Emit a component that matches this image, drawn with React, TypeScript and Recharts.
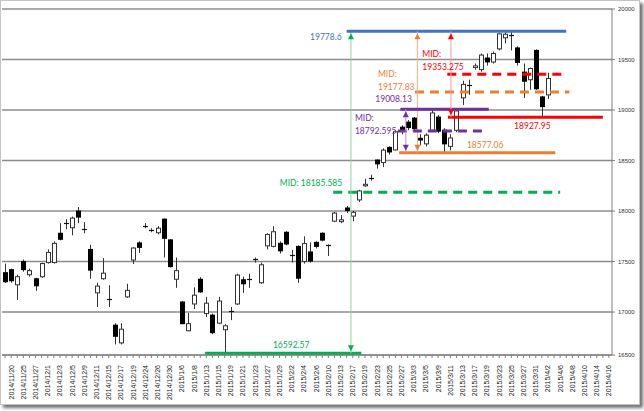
import React from 'react';
import { ComposedChart, Bar, XAxis, YAxis, CartesianGrid, ReferenceLine, ReferenceDot } from 'recharts';

// trading days on the axis (the last ten have no candle yet)
const dates = [
  '2014/11/19', '2014/11/20', '2014/11/21', '2014/11/25', '2014/11/26', '2014/11/27', '2014/11/28',
  '2014/12/1', '2014/12/2', '2014/12/3', '2014/12/4', '2014/12/5', '2014/12/8', '2014/12/9', '2014/12/10',
  '2014/12/11', '2014/12/12', '2014/12/15', '2014/12/16', '2014/12/17', '2014/12/18', '2014/12/19',
  '2014/12/22', '2014/12/24', '2014/12/25', '2014/12/26', '2014/12/29', '2014/12/30',
  '2015/1/5', '2015/1/6', '2015/1/7', '2015/1/8', '2015/1/9', '2015/1/13', '2015/1/14', '2015/1/15',
  '2015/1/16', '2015/1/19', '2015/1/20', '2015/1/21', '2015/1/22', '2015/1/23', '2015/1/26', '2015/1/27',
  '2015/1/28', '2015/1/29', '2015/1/30', '2015/2/2', '2015/2/3', '2015/2/4', '2015/2/5', '2015/2/6',
  '2015/2/9', '2015/2/10', '2015/2/12', '2015/2/13', '2015/2/16', '2015/2/17', '2015/2/18', '2015/2/19',
  '2015/2/20', '2015/2/23', '2015/2/24', '2015/2/25', '2015/2/26', '2015/2/27', '2015/3/2', '2015/3/3',
  '2015/3/4', '2015/3/5', '2015/3/6', '2015/3/9', '2015/3/10', '2015/3/11', '2015/3/12', '2015/3/13',
  '2015/3/16', '2015/3/17', '2015/3/18', '2015/3/19', '2015/3/20', '2015/3/23', '2015/3/24', '2015/3/25',
  '2015/3/26', '2015/3/27', '2015/3/30', '2015/3/31', '2015/4/1', '2015/4/2', '2015/4/3', '2015/4/6',
  '2015/4/7', '2015/4/8', '2015/4/9', '2015/4/10', '2015/4/13', '2015/4/14', '2015/4/15', '2015/4/16',
];

const opens = [
  17390, 17420, 17270, 17500, 17370, 17330, 17350, 17490, 17490, 17780, 17870, 17835, 18000, 17815, 17620,
  17190, 17330, 17125, 16870, 16695, 17150, 17515, 17685, 17850, 17815, 17785, 17920, 17715, 17325, 17100,
  16815, 17080, 17325, 16985, 16970, 16890, 16825, 17010, 17080, 17320, 17320, 17525, 17290, 17655, 17650,
  17680, 17790, 17560, 17650, 17500, 17595, 17690, 17780, 17660, 17900, 17895, 18030, 17950, 18110, 18250,
  18330, 18505, 18480, 18630, 18605, 18830, 18880, 18920, 18720, 18665, 18800, 18930, 18800, 18640, 18800,
  19120, 19240, 19420, 19400, 19515, 19475, 19605, 19715, 19740, 19615, 19375, 19300, 19590, 19130, 19150,
];
const highs = [
  17480, 17430, 17370, 17520, 17430, 17340, 17490, 17620, 17700, 17880, 17920, 17945, 18040, 17890, 17665,
  17290, 17535, 17265, 16890, 16890, 17280, 17640, 17700, 17880, 17830, 17850, 17925, 17720, 17540, 17110,
  16990, 17245, 17345, 17150, 16985, 17150, 16880, 17050, 17380, 17350, 17380, 17540, 17490, 17780, 17850,
  17700, 17800, 17615, 17660, 17750, 17690, 17700, 17790, 17670, 17990, 17960, 18050, 18000, 18210, 18320,
  18360, 18510, 18620, 18640, 18800, 18850, 18900, 18930, 18760, 18770, 19008.13, 18950, 18820, 18760, 19000,
  19290, 19300, 19460, 19560, 19560, 19580, 19760, 19770, 19778.6, 19630, 19460, 19420, 19600, 19140, 19370,
];
const lows = [
  17290, 17290, 17120, 17400, 17350, 17210, 17340, 17480, 17480, 17710, 17820, 17760, 17880, 17780, 17330,
  17050, 17320, 17050, 16680, 16680, 17140, 17475, 17585, 17830, 17790, 17770, 17540, 17440, 17240, 16880,
  16810, 17030, 17190, 16950, 16780, 16880, 16592.57, 16920, 17070, 17190, 17240, 17490, 17280, 17620, 17640,
  17580, 17660, 17490, 17290, 17480, 17490, 17630, 17700, 17555, 17890, 17880, 17980, 17900, 18090, 18240,
  18300, 18420, 18435, 18560, 18600, 18760, 18800, 18790, 18650, 18640, 18790, 18770, 18577.06, 18600, 18780,
  19050, 19150, 19400, 19380, 19440, 19460, 19590, 19660, 19590, 19440, 19120, 19200, 19200, 18927.95, 19110,
];
const closes = [
  17300, 17310, 17350, 17420, 17410, 17260, 17480, 17590, 17680, 17720, 17880, 17930, 17940, 17825, 17415,
  17257, 17385, 17115, 16760, 16830, 17215, 17634, 17640, 17855, 17810, 17830, 17730, 17450, 17410, 16885,
  16885, 17167, 17200, 17088, 16796, 17109, 16864, 17014, 17366, 17280, 17329, 17511, 17468, 17768, 17795,
  17606, 17674, 17558, 17335, 17678, 17505, 17650, 17712, 17652, 17980, 17913, 18005, 17987, 18199, 18265,
  18332, 18467, 18603, 18585, 18785, 18798, 18826, 18815, 18703, 18751, 18971, 18790, 18665, 18723, 18991,
  19254, 19246, 19437, 19544, 19476, 19560, 19754, 19750, 19746, 19471, 19285, 19411, 19210, 19034, 19312,
];

const yTicks = [16575, 17000, 17500, 18000, 18500, 19000, 19500, 20000];
const yTickLabels = ['16500', '17000', '17500', '18000', '18500', '19000', '19500', '20000'];

// marked levels
const topHigh = 19778.6;
const yearLow = 16592.57;
const boxLow = 18577.06;
const boxHigh = 19008.13;
const recentLow = 18927.95;
const midGreen = (topHigh + yearLow) / 2;
const midOrange = (topHigh + boxLow) / 2;
const midPurple = (boxHigh + boxLow) / 2;
const midRed = (topHigh + recentLow) / 2;

const candles = opens.map((o, i) => ({
  i,
  open: o,
  close: closes[i],
  range: [lows[i], highs[i]],
}));

const Candle = (props: any) => {
  const { x, y, width, height, payload } = props;
  const [lo, hi] = payload.range;
  const top = Math.min(y, y + height);
  const h = Math.abs(height);
  const px = (v: number) => top + ((hi - v) / (hi - lo)) * h;
  const c = Math.floor(x + width / 2);
  const up = payload.close >= payload.open;
  const bTop = px(Math.max(payload.open, payload.close));
  const bBot = px(Math.min(payload.open, payload.close));
  const bh = bBot - bTop;
  return (
    <g>
      <line x1={c + 0.5} x2={c + 0.5} y1={top} y2={top + h} stroke="#333" strokeWidth={1} />
      {bh < 1.5 ? (
        <line x1={c - 2} x2={c + 3} y1={Math.round(bTop) + 0.5} y2={Math.round(bTop) + 0.5} stroke="#111" strokeWidth={1.2} />
      ) : up ? (
        <rect x={c - 1.5} y={bTop} width={4} height={bh} fill="#fff" stroke="#333" strokeWidth={1} />
      ) : (
        <rect x={c - 2} y={bTop - 0.5} width={5} height={bh + 1} fill="#000" />
      )}
    </g>
  );
};

const DateTick = ({ x, y, payload }: any) => {
  const i = payload.value;
  if (i % 2 === 0) return <g />;
  return (
    <text
      x={x}
      y={y}
      dy="0.35em"
      transform={`rotate(-90 ${x} ${y})`}
      textAnchor="end"
      fontSize={7}
      fill="#222"
    >
      {dates[i]}
    </text>
  );
};

const arrow = (dir: 'up' | 'down', color: string) => (p: any) => {
  const { cx, cy } = p;
  const tip = dir === 'up' ? cy + 2 : cy - 2;
  const base = dir === 'up' ? tip + 6 : tip - 6;
  return <polygon points={`${cx},${tip} ${cx - 3},${base} ${cx + 3},${base}`} fill={color} />;
};

const note = (lines: string[], color: string, dx: number, dy: number, anchor = 'start') => (p: any) => (
  <text x={p.cx + dx} y={p.cy + dy} fill={color} fontSize={8.5} fontFamily="Lato, 'Open Sans', sans-serif" textAnchor={anchor}>
    {lines.map((t, k) => (
      <tspan key={k} x={p.cx + dx} dy={k === 0 ? 0 : 13}>
        {t}
      </tspan>
    ))}
  </text>
);

export default function App() {
  const blue = '#4472C4';
  const green = '#00B050';
  const orange = '#ED7D31';
  const purple = '#7030A0';
  const red = '#FF0000';
  return (
    <div
      style={{
        position: 'absolute',
        left: 0,
        top: 0,
        width: 638,
        height: 403,
        border: '1px solid #c4c4c4',
        boxShadow: '3px 3px 3px rgba(0,0,0,0.55)',
        background: '#fff',
        fontFamily: "'Liberation Sans', Arial, sans-serif",
      }}
    >
      <ComposedChart width={638} height={403} data={candles} margin={{ top: 8, right: 0, left: 1, bottom: 0 }}>
        <CartesianGrid vertical={false} stroke="#8c8c8c" strokeWidth={1.5} />
        <XAxis
          type="number"
          dataKey="i"
          domain={[-0.5, dates.length - 0.5]}
          ticks={dates.map((_, i) => i)}
          interval={0}
          tick={<DateTick />}
          tickSize={3}
          tickMargin={7}
          height={49}
          stroke="#7f7f7f"
          allowDataOverflow
        />
        <YAxis
          orientation="right"
          domain={[16575, 20000]}
          ticks={yTicks}
          interval={0}
          width={27}
          tickSize={3}
          tickMargin={3}
          stroke="#7f7f7f"
          tick={{ fontSize: 6, fill: '#333', textAnchor: 'start' }}
          tickFormatter={(v: number) => yTickLabels[yTicks.indexOf(v)]}
          allowDataOverflow
        />
        <Bar dataKey="range" barSize={5} shape={<Candle />} isAnimationActive={false} />

        {/* green: whole swing */}
        <ReferenceLine segment={[{ x: 32.8, y: yearLow }, { x: 58.4, y: yearLow }]} stroke={green} strokeWidth={3} />
        <ReferenceLine segment={[{ x: 53.8, y: midGreen }, { x: 91, y: midGreen }]} stroke={green} strokeWidth={3} strokeDasharray="9 6" />
        <ReferenceLine segment={[{ x: 56.7, y: topHigh }, { x: 56.7, y: yearLow }]} stroke="#8fd3a2" strokeWidth={1} />
        <ReferenceDot x={56.7} y={topHigh} shape={arrow('up', green)} />
        <ReferenceDot x={56.7} y={yearLow} shape={arrow('down', green)} />
        <ReferenceDot x={45.6} y={yearLow} shape={note(['16592.57'], green, 8, -5, 'middle')} />
        <ReferenceDot x={53.8} y={midGreen} shape={note(['MID: 18185.585'], green, 9, -6, 'end')} />

        {/* blue top */}
        <ReferenceLine segment={[{ x: 56, y: topHigh }, { x: 92, y: topHigh }]} stroke={blue} strokeWidth={3} />
        <ReferenceDot x={56} y={topHigh} shape={note(['19778.6'], blue, -5, 9, 'end')} />

        {/* orange */}
        <ReferenceLine segment={[{ x: 64.6, y: boxLow }, { x: 90.2, y: boxLow }]} stroke={orange} strokeWidth={3} />
        <ReferenceLine segment={[{ x: 67.2, y: midOrange }, { x: 92.5, y: midOrange }]} stroke={orange} strokeWidth={3} strokeDasharray="9 6" />
        <ReferenceLine segment={[{ x: 67.6, y: topHigh }, { x: 67.6, y: boxLow }]} stroke="#f4b183" strokeWidth={1} />
        <ReferenceDot x={67.6} y={topHigh} shape={arrow('up', orange)} />
        <ReferenceDot x={67.6} y={boxLow} shape={arrow('down', orange)} />
        <ReferenceDot x={77.4} y={boxLow} shape={note(['18577.06'], orange, 8, -5, 'middle')} />
        <ReferenceDot x={67.2} y={midOrange} shape={note(['MID:', '19177.83'], orange, -37, -15)} />

        {/* purple */}
        <ReferenceLine segment={[{ x: 64.8, y: boxHigh }, { x: 79.3, y: boxHigh }]} stroke={purple} strokeWidth={3} />
        <ReferenceLine segment={[{ x: 64.4, y: midPurple }, { x: 79, y: midPurple }]} stroke={purple} strokeWidth={3} strokeDasharray="9 6" />
        <ReferenceLine segment={[{ x: 65.7, y: boxHigh }, { x: 65.7, y: boxLow }]} stroke="#b79ad3" strokeWidth={1} />
        <ReferenceDot x={65.7} y={boxHigh} shape={arrow('up', purple)} />
        <ReferenceDot x={65.7} y={boxLow} shape={arrow('down', purple)} />
        <ReferenceDot x={64.8} y={boxHigh} shape={note(['19008.13'], purple, -25, -7)} />
        <ReferenceDot x={64.4} y={midPurple} shape={note(['MID:', '18792.595'], purple, -43, -10)} />

        {/* red */}
        <ReferenceLine segment={[{ x: 72.6, y: recentLow }, { x: 98, y: recentLow }]} stroke={red} strokeWidth={3} />
        <ReferenceLine segment={[{ x: 72.5, y: midRed }, { x: 92, y: midRed }]} stroke={red} strokeWidth={3} strokeDasharray="9 6" />
        <ReferenceLine segment={[{ x: 73.1, y: topHigh }, { x: 73.1, y: recentLow }]} stroke="#ff9b9b" strokeWidth={1} />
        <ReferenceDot x={73.1} y={topHigh} shape={arrow('up', red)} />
        <ReferenceDot x={73.1} y={recentLow} shape={arrow('down', red)} />
        <ReferenceDot x={85.3} y={recentLow} shape={note(['18927.95'], red, 7, 12, 'middle')} />
        <ReferenceDot x={72.5} y={midRed} shape={note(['MID:', '19353.275'], red, -25, -17)} />
      </ComposedChart>
    </div>
  );
}
